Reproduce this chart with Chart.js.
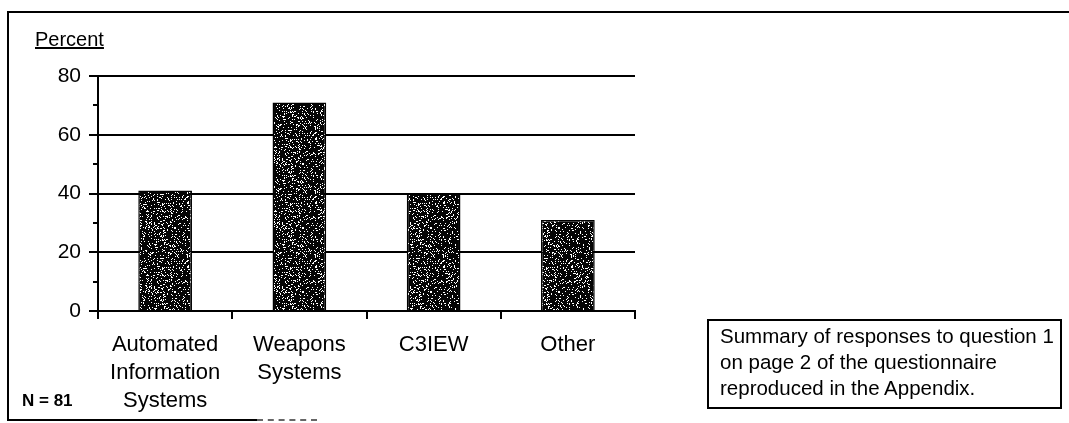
<!DOCTYPE html>
<html lang="en">
<head>
    <meta charset="UTF-8">
    <title>Responses to question 1</title>
    <script src="https://cdn.jsdelivr.net/npm/chart.js"></script>
    <style>
        html, body { margin: 0; padding: 0; background: #fff; }
        body { width: 1069px; height: 423px; position: relative; overflow: hidden;
               font-family: "Liberation Sans", Arial, sans-serif; color: #000; }
        #grafico { position: absolute; left: 0; top: 0; }
        .frame-top { position: absolute; left: 7px; top: 11px; width: 1062px; height: 0; border-top: 2px solid #000; }
        .frame-left { position: absolute; left: 7px; top: 11px; width: 0; height: 410px; border-left: 2px solid #000; }
        .frame-bottom { position: absolute; left: 7px; top: 419px; width: 250px; height: 0; border-top: 2px solid #000; }
        .frame-bottom2 { position: absolute; left: 257px; top: 419px; width: 60px; height: 0; border-top: 2px dashed #666; }
        .percent { position: absolute; left: 35px; top: 28px; font-size: 20px; text-decoration: underline; }
        .n-label { position: absolute; left: 22px; top: 391px; font-size: 17px; font-weight: bold; }
        .nota { position: absolute; left: 707px; top: 319px; width: 340px; height: 84px;
                border: 2px solid #000; padding: 2px 0 0 11px; font-size: 20.5px; line-height: 26px; }
    </style>
</head>
<body>
    <div class="frame-top"></div>
    <div class="frame-left"></div>
    <div class="frame-bottom"></div>
    <div class="frame-bottom2"></div>
    <canvas id="grafico" width="1069" height="423"></canvas>
    <div class="percent">Percent</div>
    <div class="n-label">N = 81</div>
    <div class="nota">Summary of responses to question 1<br>on page 2 of the questionnaire<br>reproduced in the Appendix.</div>

    <script>
        const categorias = [
            ['Automated', 'Information', 'Systems'],
            ['Weapons', 'Systems'],
            'C3IEW',
            'Other'
        ];
        const percentuais = [41, 71, 40, 31];
        const ticksMenores = [10, 30, 50, 70];

        // textura pontilhada das barras (escura com pontos claros)
        function criarTextura() {
            const c = document.createElement('canvas');
            c.width = 64; c.height = 64;
            const g = c.getContext('2d');
            g.fillStyle = '#050505';
            g.fillRect(0, 0, 64, 64);
            let s = 12345;
            g.fillStyle = '#ffffff';
            for (let y = 0; y < 64; y++) {
                for (let x = 0; x < 64; x++) {
                    s = (s * 1103515245 + 12345) % 2147483648;
                    if (s / 2147483648 < 0.15) g.fillRect(x, y, 1, 1);
                }
            }
            return g.createPattern(c, 'repeat');
        }

        const ticksMenoresPlugin = {
            id: 'ticksMenores',
            afterDraw(chart) {
                const y = chart.scales.y;
                const ctx = chart.ctx;
                ctx.save();
                ctx.strokeStyle = '#000';
                ctx.lineWidth = 2;
                ticksMenores.forEach(v => {
                    const py = Math.round(y.getPixelForValue(v));
                    ctx.beginPath();
                    ctx.moveTo(y.right - 5, py);
                    ctx.lineTo(y.right, py);
                    ctx.stroke();
                });
                ctx.restore();
            }
        };

        const ctx = document.getElementById('grafico').getContext('2d');
        new Chart(ctx, {
            type: 'bar',
            data: {
                labels: categorias,
                datasets: [{
                    data: percentuais,
                    backgroundColor: criarTextura(),
                    borderColor: '#000',
                    borderWidth: 1.5,
                    categoryPercentage: 1,
                    barPercentage: 0.4
                }]
            },
            options: {
                responsive: false,
                animation: false,
                layout: { padding: { left: 0, top: 76, right: 434, bottom: 0 } },
                plugins: { legend: { display: false }, tooltip: { enabled: false } },
                scales: {
                    x: {
                        afterFit: s => { s.height = 112; },
                        grid: { drawOnChartArea: false, color: '#000', lineWidth: 2, tickLength: 8 },
                        border: { color: '#000', width: 2 },
                        ticks: {
                            color: '#000',
                            padding: 12,
                            maxRotation: 0,
                            autoSkip: false,
                            font: { family: 'Liberation Sans', size: 22, lineHeight: '28px' }
                        }
                    },
                    y: {
                        min: 0,
                        max: 80,
                        afterFit: s => { s.width = 98; },
                        grid: { color: '#000', lineWidth: 2, tickLength: 9 },
                        border: { color: '#000', width: 2 },
                        ticks: {
                            stepSize: 20,
                            color: '#000',
                            padding: 8,
                            font: { family: 'Liberation Sans', size: 21 }
                        }
                    }
                }
            },
            plugins: [ticksMenoresPlugin]
        });
    </script>
</body>
</html>
